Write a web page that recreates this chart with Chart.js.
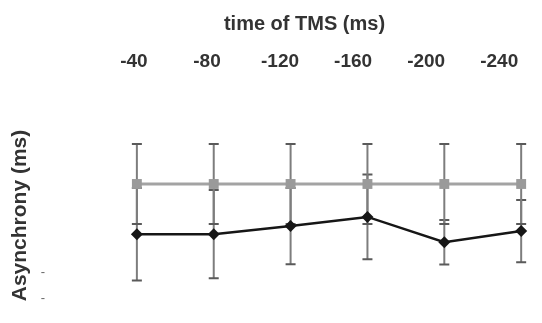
<!DOCTYPE html>
<html>
<head>
<meta charset="utf-8">
<script src="https://cdn.jsdelivr.net/npm/chart.js@4.4.0/dist/chart.umd.min.js"></script>
<style>
  html, body { margin: 0; padding: 0; background: #fff; }
  #wrap { width: 542px; height: 323px; }
</style>
</head>
<body>
<div id="wrap"><canvas id="tmsChart"></canvas></div>
<script>
// values (ms)
const timeLabels = ['-40', '-80', '-120', '-160', '-200', '-240'];
const grayMean = [-26.2, -26.2, -26.2, -26.2, -26.2, -26.2];
const graySd = [15.3, 15.3, 15.3, 15.3, 15.3, 15.3];
const blackMean = [-45.4, -45.4, -42.3, -38.8, -48.5, -44.2];
const blackSd = [17.7, 16.9, 14.6, 16.2, 8.5, 11.9];
const yDashTicks = [-60, -70];

// vertical error bars drawn through the chart's own scales
const errorBars = {
    id: 'errorBars',
    beforeDatasetsDraw(chart) {
        const ctx = chart.ctx;
        const x = chart.scales.x;
        const y = chart.scales.y;
        ctx.save();
        chart.data.datasets.forEach(ds => {
            ds.data.forEach((p, i) => {
                const e = ds.errorBars[i];
                const px = x.getPixelForValue(p.x);
                const top = y.getPixelForValue(p.y + e);
                const bot = y.getPixelForValue(p.y - e);
                ctx.strokeStyle = '#7d7d7d';
                ctx.lineWidth = 2;
                ctx.beginPath();
                ctx.moveTo(px, top);
                ctx.lineTo(px, bot);
                ctx.stroke();
                ctx.strokeStyle = '#5a5a5a';
                ctx.beginPath();
                ctx.moveTo(px - 5, top);
                ctx.lineTo(px + 5, top);
                ctx.moveTo(px - 5, bot);
                ctx.lineTo(px + 5, bot);
                ctx.stroke();
            });
        });
        ctx.restore();
    }
};

const ctx = document.getElementById('tmsChart').getContext('2d');
const myChart = new Chart(ctx, {
    type: 'line',
    data: {
        datasets: [{
            label: 'black',
            data: blackMean.map((v, i) => ({ x: i, y: v })),
            errorBars: blackSd,
            borderColor: '#161616',
            borderWidth: 2.5,
            pointStyle: 'rectRot',
            pointRadius: 6,
            pointBackgroundColor: '#161616',
            pointBorderColor: '#161616',
            pointBorderWidth: 0,
            order: 0
        }, {
            label: 'gray',
            data: grayMean.map((v, i) => ({ x: i, y: v })),
            errorBars: graySd,
            borderColor: '#a3a3a3',
            borderWidth: 3,
            pointStyle: 'rect',
            pointRadius: 7,
            pointBackgroundColor: '#9a9a9a',
            pointBorderColor: '#9a9a9a',
            pointBorderWidth: 0,
            order: 1
        }]
    },
    options: {
        responsive: true,
        maintainAspectRatio: false,
        animation: false,
        layout: { padding: 0 },
        plugins: {
            legend: { display: false },
            tooltip: { enabled: false }
        },
        scales: {
            x: {
                type: 'linear',
                display: false,
                min: -0.818,
                max: 5.18
            },
            x2: {
                type: 'linear',
                position: 'top',
                min: -0.82,
                max: 5.49,
                grid: { display: false, drawTicks: false },
                border: { display: false },
                afterBuildTicks: s => { s.ticks = timeLabels.map((t, i) => ({ value: i })); },
                afterFit: s => { s.height = 115; s.paddingLeft = 0; s.paddingRight = 0; },
                ticks: {
                    padding: 42,
                    maxRotation: 0,
                    autoSkip: false,
                    color: '#333',
                    font: { family: 'Liberation Sans', size: 19, weight: 'bold' },
                    callback: v => timeLabels[v]
                },
                title: {
                    display: true,
                    text: 'time of TMS (ms)',
                    color: '#333',
                    padding: { top: 12 },
                    font: { family: 'Liberation Sans', size: 20, weight: 'bold' }
                }
            },
            y: {
                min: -76.7,
                max: 0.19,
                grid: { display: false, drawTicks: false },
                border: { display: false },
                afterBuildTicks: s => { s.ticks = yDashTicks.map(v => ({ value: v })); },
                afterFit: s => { s.width = 74; s.paddingTop = 0; s.paddingBottom = 0; },
                ticks: {
                    padding: 29,
                    color: '#666',
                    font: { family: 'Liberation Sans', size: 13 },
                    callback: () => '-'
                },
                title: {
                    display: true,
                    text: 'Asynchrony (ms)',
                    color: '#333',
                    padding: { top: 8 },
                    font: { family: 'Liberation Sans', size: 21, weight: 'bold' }
                }
            }
        }
    },
    plugins: [errorBars]
});
</script>
</body>
</html>
